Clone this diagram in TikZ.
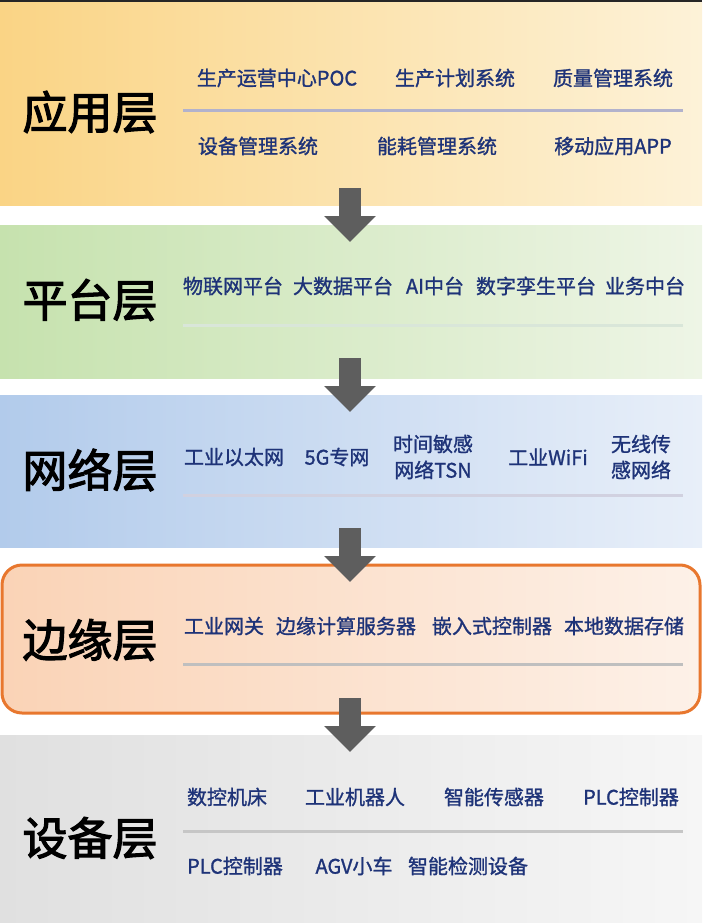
\documentclass[tikz,border=0pt]{standalone}
\usepackage{fontspec}
\setmainfont{Noto Sans CJK SC}
\newfontfamily\cjkbold{Noto Sans CJK SC}[FakeBold=2.5]
\newfontfamily\cjkmid{Noto Sans CJK SC}[FakeBold=1.2]
\usetikzlibrary{positioning,arrows.meta}
\definecolor{itemblue}{HTML}{1E3378}
\definecolor{arrowgray}{HTML}{5E5E5E}
\definecolor{edgeorange}{HTML}{E8772E}
\definecolor{appL}{HTML}{FAD485}\definecolor{appR}{HTML}{FDF2D8}
\definecolor{platL}{HTML}{C6E2AE}\definecolor{platR}{HTML}{EEF5E6}
\definecolor{netL}{HTML}{B2CBEB}\definecolor{netR}{HTML}{E8EFF9}
\definecolor{edgeL}{HTML}{FAD3B6}\definecolor{edgeR}{HTML}{FDF1E8}
\definecolor{devL}{HTML}{E0E0E0}\definecolor{devR}{HTML}{F6F6F6}

\begin{document}
\begin{tikzpicture}[x=1pt,y=-1pt,
  layer/.style={font=\cjkbold\fontsize{45}{47}\selectfont, text=black, inner sep=0pt},
  item/.style={font=\cjkmid\fontsize{20}{26}\selectfont, text=itemblue, inner sep=0pt, align=center},
  divider/.style={line width=3pt, color=#1},
  flow/.style={line width=22pt, arrowgray, -{Triangle[width=50pt,length=26pt]}}]
  \useasboundingbox (0,0) rectangle (702,923);
  \fill[white] (0,0) rectangle (702,923);
  \fill[black!85] (0,0) rectangle (702,3);
  % layer bands
  \shade[left color=appL, right color=appR] (0,3) rectangle (702,205);
  \shade[left color=platL, right color=platR] (0,225) rectangle (702,378);
  \shade[left color=netL, right color=netR] (0,395) rectangle (702,547);
  \shade[left color=edgeL, right color=edgeR, rounded corners=20pt] (2,565) rectangle (700,713);
  \draw[edgeorange, line width=3pt, rounded corners=20pt] (2,565) rectangle (700,713);
  \shade[left color=devL, right color=devR] (0,735) rectangle (702,923);
  % dividers
  \draw[divider=blue!20!gray!50] (183,111) -- (683,111);
  \draw[divider=green!20!gray!25] (183,325) -- (683,325);
  \draw[divider=blue!20!gray!30] (183,495) -- (683,495);
  \draw[divider=gray!50] (183,664) -- (683,664);
  \draw[divider=gray!45] (183,831) -- (683,831);
  % layer names
  \node[layer] (app) at (90,112) {应用层};
  \node[layer] (plat) at (90,300) {平台层};
  \node[layer] (net) at (90,470) {网络层};
  \node[layer] (edge) at (90,640) {边缘层};
  \node[layer] (dev) at (90,838) {设备层};
  % application items
  \node[item] (a1) at (277,78) {生产运营中心POC};
  \node[item] (a2) at (455,78) {生产计划系统};
  \node[item] (a3) at (613,78) {质量管理系统};
  \node[item] (a4) at (258,146) {设备管理系统};
  \node[item] (a5) at (437,146) {能耗管理系统};
  \node[item] (a6) at (613,146) {移动应用APP};
  % platform items
  \node[item] (p1) at (233,286) {物联网平台};
  \node[item] (p2) at (343,286) {大数据平台};
  \node[item] (p3) at (435,286) {AI中台};
  \node[item] (p4) at (536,286) {数字孪生平台};
  \node[item] (p5) at (645,286) {业务中台};
  % network items
  \node[item] (n1) at (234,457) {工业以太网};
  \node[item] (n2) at (337,457) {5G专网};
  \node[item] (n3) at (433,457) {时间敏感\\网络TSN};
  \node[item] (n4) at (548,457) {工业WiFi};
  \node[item] (n5) at (641,457) {无线传\\感网络};
  % edge items
  \node[item] (e1) at (224,626) {工业网关};
  \node[item] (e2) at (346,626) {边缘计算服务器};
  \node[item] (e3) at (492,626) {嵌入式控制器};
  \node[item] (e4) at (624,626) {本地数据存储};
  % device items
  \node[item] (d1) at (227,797) {数控机床};
  \node[item] (d2) at (355,797) {工业机器人};
  \node[item] (d3) at (494,797) {智能传感器};
  \node[item] (d4) at (631,797) {PLC控制器};
  \node[item] (d5) at (235,866) {PLC控制器};
  \node[item] (d6) at (354,866) {AGV小车};
  \node[item] (d7) at (468,866) {智能检测设备};
  % arrows between layers
  \coordinate (s1) at (350,188); \coordinate (t1) at (350,242);
  \coordinate (s2) at (350,358); \coordinate (t2) at (350,412);
  \coordinate (s3) at (350,528); \coordinate (t3) at (350,582);
  \coordinate (s4) at (350,698); \coordinate (t4) at (350,752);
  \foreach \i in {1,...,4}
    \draw[flow] (s\i) -- (t\i);
\end{tikzpicture}
\end{document}
